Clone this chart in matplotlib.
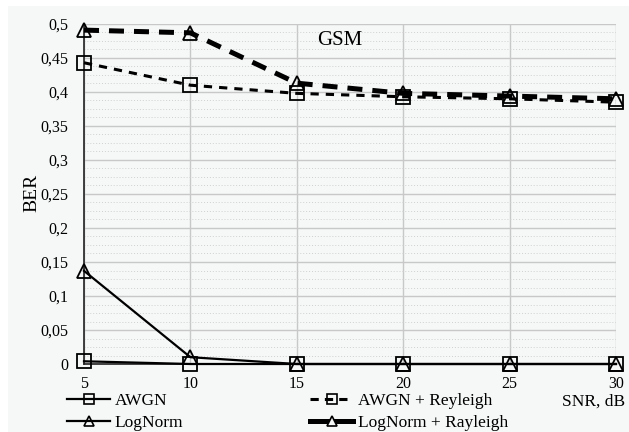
import matplotlib
matplotlib.use("Agg")
import matplotlib.pyplot as plt
from matplotlib.ticker import MultipleLocator, FuncFormatter
from matplotlib.lines import Line2D
from matplotlib.patches import Rectangle

plt.rcParams['font.family'] = ['Liberation Serif', 'DejaVu Serif']

snr = [5, 10, 15, 20, 25, 30]
awgn = [0.004, 0.0, 0.0, 0.0, 0.0, 0.0]
lognorm = [0.137, 0.010, 0.0, 0.0, 0.0, 0.0]
awgn_ray = [0.443, 0.410, 0.398, 0.393, 0.390, 0.385]
lognorm_ray = [0.491, 0.487, 0.413, 0.398, 0.394, 0.390]
labels = ['AWGN', 'LogNorm', 'AWGN + Reyleigh', 'LogNorm + Rayleigh']
yticks = [0, 0.05, 0.1, 0.15, 0.2, 0.25, 0.3, 0.35, 0.4, 0.45, 0.5]

BG = '#f6f7f7'
fig = plt.figure(figsize=(6.29, 4.32), dpi=100, facecolor='white')
fig.patches.append(Rectangle((8/629, 0), 1, 1 - 6/432, transform=fig.transFigure,
                             facecolor=BG, edgecolor='none', zorder=-10))
ax = fig.add_axes([84/629, 1 - 364/432, (616 - 84)/629, (364 - 24)/432])
ax.set_facecolor(BG)

ax.set_xlim(5, 30)
ax.set_ylim(0, 0.5)
ax.set_xticks(snr)
ax.set_yticks(yticks)
ax.yaxis.set_minor_locator(MultipleLocator(0.0125))
ax.yaxis.set_major_formatter(FuncFormatter(lambda v, p: ('%g' % round(v, 3)).replace('.', ',')))
ax.grid(True, which='major', color='#c8c8c8', lw=1.0)
ax.grid(True, which='minor', axis='y', color='#d0d0d0', lw=0.7, ls=(0, (1, 2)))
ax.tick_params(axis='both', which='both', length=0, labelsize=11.5)
ax.tick_params(axis='y', pad=11)
ax.tick_params(axis='x', pad=9)
for s in ['top', 'right']:
    ax.spines[s].set_visible(False)
ax.spines['left'].set_color('#222222')
ax.spines['bottom'].set_color('#222222')
ax.spines['left'].set_linewidth(1.2)
ax.spines['bottom'].set_linewidth(1.2)
ax.set_axisbelow(True)

kw = dict(color='black', markerfacecolor='none', markeredgecolor='black',
          markersize=10, markeredgewidth=1.3, clip_on=False)
ax.plot(snr, awgn, ls='-', lw=1.6, marker='s', zorder=3, **kw)
ax.plot(snr, lognorm, ls='-', lw=1.6, marker='^', zorder=3, **kw)
ax.plot(snr, awgn_ray, ls=(0, (2.7, 2.3)), lw=2.2, marker='s', zorder=3, **kw)
ax.plot(snr, lognorm_ray, ls=(0, (3, 2)), lw=3.6, marker='^', zorder=3, **kw)

ax.set_ylabel('BER', fontsize=14)
ax.yaxis.set_label_coords((40 - 84)/532, (364 - 193)/340)
ax.text((340 - 84)/532, 0.95, 'GSM', transform=ax.transAxes, fontsize=15, ha='center', va='center')
fig.text(625/629, 1 - 402/432, 'SNR, dB', ha='right', va='center', fontsize=12.5)

mk = dict(markersize=7, markeredgewidth=1.2, color='black')
lh1 = [Line2D([], [], lw=1.6, marker='s', markerfacecolor='none', **mk),
       Line2D([], [], lw=1.6, marker='^', markerfacecolor='none', **mk)]
lh2 = [Line2D([], [], lw=2.2, ls=(0, (2.7, 2.0)), marker='s', markerfacecolor='none', **mk),
       Line2D([], [], lw=3.6, ls='-', marker='^', markerfacecolor=BG, **mk)]
legkw = dict(loc='center left', frameon=False, fontsize=12.5, handlelength=2.5,
             handletextpad=0.25, labelspacing=0.35, borderpad=0, borderaxespad=0)
leg1 = fig.legend(lh1, labels[:2], bbox_to_anchor=(67/629, 1 - 412/432), **legkw)
leg2 = fig.legend(lh2, labels[2:], bbox_to_anchor=(310/629, 1 - 412/432), **legkw)

fig.savefig('out.png', dpi=100, facecolor=fig.get_facecolor())
